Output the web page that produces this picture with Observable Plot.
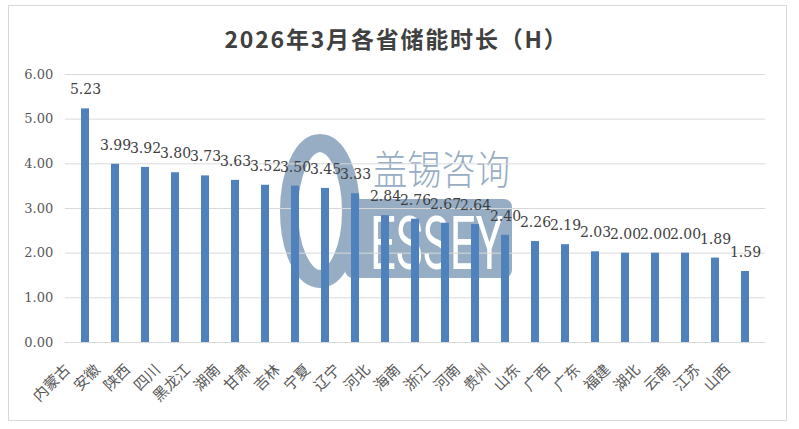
<!DOCTYPE html>
<html><head><meta charset="utf-8">
<script src="https://cdn.jsdelivr.net/npm/d3@7"></script>
<script src="https://cdn.jsdelivr.net/npm/@observablehq/plot@0.6"></script>
<style>
body{margin:0;background:#fff;}
#wrap{position:relative;width:799px;height:429px;overflow:hidden;font-family:"Noto Sans CJK SC",sans-serif;}
#frame{position:absolute;left:8px;top:5px;width:777px;height:414px;border:1px solid #d9d9d9;}
#title{position:absolute;left:-3px;top:18px;width:799px;text-align:center;font-size:23px;font-weight:bold;color:#404040;line-height:40px;letter-spacing:1.8px;}
#wm{position:absolute;left:0;top:0;}
#chart{position:absolute;left:0;top:55px;}
</style></head>
<body>
<div id="wrap">
<div id="frame"></div>
<svg id="wm" width="799" height="429">
  <ellipse cx="320" cy="211" rx="31" ry="68" fill="none" stroke="#97adc4" stroke-width="18"/>
  <rect x="345" y="199" width="167" height="79" rx="8" fill="#97adc4"/>
  <text x="370" y="269" font-size="75" fill="#fff" font-family="Roboto" textLength="133" lengthAdjust="spacingAndGlyphs">ESSEY</text>
  <text x="373" y="184" font-size="40" fill="#97adc4" font-family="Noto Sans CJK SC" font-weight="300" textLength="137" lengthAdjust="spacingAndGlyphs">盖锡咨询</text>
</svg>
<div id="title">2026年3月各省储能时长（H）</div>
<div id="chart"></div>
</div>
<script>
const provinces = ["内蒙古","安徽","陕西","四川","黑龙江","湖南","甘肃","吉林","宁夏","辽宁","河北","海南","浙江","河南","贵州","山东","广西","广东","福建","湖北","云南","江苏","山西"];
const values = [5.23,3.99,3.92,3.80,3.73,3.63,3.52,3.50,3.45,3.33,2.84,2.76,2.67,2.64,2.40,2.26,2.19,2.03,2.00,2.00,2.00,1.89,1.59];
const yTicks = [0,1,2,3,4,5,6];
const data = provinces.map((p,i)=>({p, v: values[i]}));
const chart = Plot.plot({
  width: 799, height: 374,
  marginTop: 19, marginBottom: 87, marginLeft: 64.8, marginRight: 33.8,
  style: {background: "transparent", fontFamily: "Noto Sans CJK SC, sans-serif"},
  x: {domain: provinces, paddingInner: 0.72, paddingOuter: 0.36, label: null, axis: null},
  y: {domain: [0, 6], label: null},
  marks: [
    Plot.gridY(yTicks, {stroke: "#d9d9d9", strokeOpacity: 1}),
    Plot.barY(data, {x: "p", y: "v", fill: "#4f81bd"}),
    Plot.text(data, {x: "p", y: "v", text: d => d.v.toFixed(2), dy: -19, fontSize: 14, fill: "#404040", fontFamily: "DejaVu Serif"}),
    Plot.axisY(yTicks, {tickSize: 0, tickPadding: 12, tickFormat: d => d.toFixed(2), fontSize: 13, fill: "#595959", fontFamily: "DejaVu Serif", label: null}),
    Plot.text(provinces, {x: d => d, frameAnchor: "bottom", rotate: -45, textAnchor: "end", lineAnchor: "middle", dx: -17.7, dy: 24.7, fontSize: 15, fill: "#595959"})
  ]
});
document.getElementById("chart").appendChild(chart);
</script>
</body></html>
